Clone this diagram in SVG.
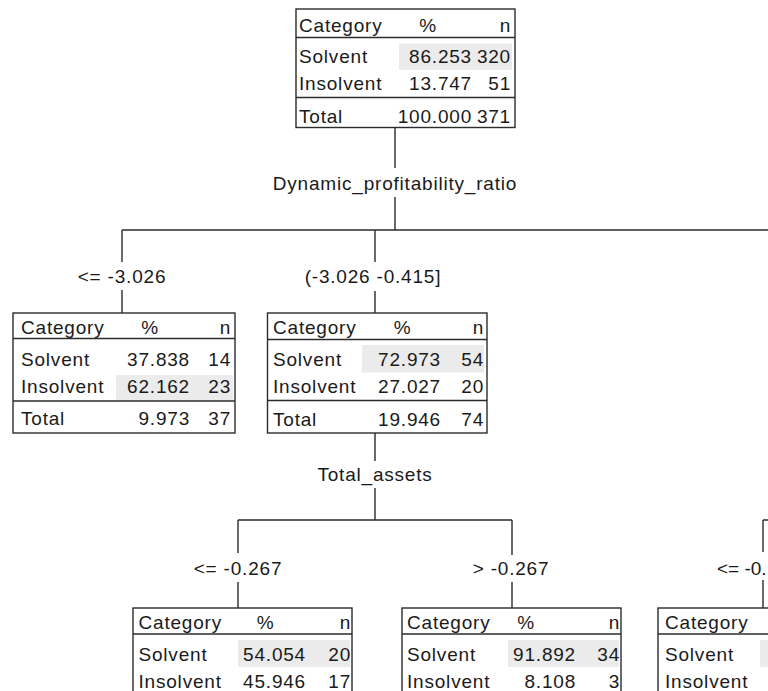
<svg xmlns="http://www.w3.org/2000/svg" width="768" height="691" viewBox="0 0 768 691">
<style>
text{font-family:"Liberation Sans",Arial,sans-serif;font-size:19px;letter-spacing:0.8px;fill:#1a1a1a}
.e{text-anchor:end}
.m{text-anchor:middle}
.box{fill:#fff;stroke:#2b2b2b;stroke-width:1.4}
.hl{fill:#ebebeb}
.ln{stroke:#2b2b2b;stroke-width:1.4;fill:none}
</style>
<rect width="768" height="691" fill="#fff"/>
<g id="connectors" class="ln">
<path d="M395 127.5V168M395 197V230M122 230H768M122 230V262M122 290V313M375 230V262M375 291V313"/>
<path d="M375 433V461M375 488V520M238 520H512M238 520V553M238 582V608M512 520V555M512 582V608"/>
<path d="M763 520H768M763 520V552M763 580V608"/>
</g>
<g id="labels">
<text class="m" x="395" y="190">Dynamic_profitability_ratio</text>
<text class="m" x="122" y="283">&lt;= -3.026</text>
<text class="m" x="373" y="283">(-3.026 -0.415]</text>
<text class="m" x="375" y="481">Total_assets</text>
<text class="m" x="238" y="575">&lt;= -0.267</text>
<text class="m" x="511" y="575">&gt; -0.267</text>
<text x="717" y="575" style="letter-spacing:0">&lt;= -0.</text>
</g>
<g id="node0">
<rect class="box" x="296" y="9" width="219" height="118.5"/>
<rect class="hl" x="399" y="43.5" width="113" height="26.5"/>
<path class="ln" d="M296 37.5H515M296 97.5H515"/>
<text x="299" y="31.5">Category</text><text class="m" x="428" y="31.5">%</text><text class="e" x="511" y="31.5">n</text>
<text x="299" y="63">Solvent</text><text class="e" x="472" y="63">86.253</text><text class="e" x="511" y="63">320</text>
<text x="299" y="89.5">Insolvent</text><text class="e" x="472" y="89.5">13.747</text><text class="e" x="511" y="89.5">51</text>
<text x="299" y="122.5">Total</text><text class="e" x="472" y="122.5">100.000</text><text class="e" x="511" y="122.5">371</text>
</g>
<g id="node1">
<rect class="box" x="13" y="313" width="222" height="120"/>
<rect class="hl" x="116" y="375" width="117" height="26"/>
<path class="ln" d="M13 338.5H235M13 401H235"/>
<text x="21" y="333.5">Category</text><text class="m" x="150" y="333.5">%</text><text class="e" x="231" y="333.5">n</text>
<text x="21" y="365.5">Solvent</text><text class="e" x="190" y="365.5">37.838</text><text class="e" x="231" y="365.5">14</text>
<text x="21" y="393">Insolvent</text><text class="e" x="190" y="393">62.162</text><text class="e" x="231" y="393">23</text>
<text x="21" y="424.5">Total</text><text class="e" x="190" y="424.5">9.973</text><text class="e" x="231" y="424.5">37</text>
</g>
<g id="node2">
<rect class="box" x="267.5" y="313" width="219.5" height="120"/>
<rect class="hl" x="362" y="345" width="122" height="27.5"/>
<path class="ln" d="M267.5 339.5H487M267.5 400.5H487"/>
<text x="273" y="333.5">Category</text><text class="m" x="402.5" y="333.5">%</text><text class="e" x="484" y="333.5">n</text>
<text x="273" y="365.5">Solvent</text><text class="e" x="441" y="365.5">72.973</text><text class="e" x="484" y="365.5">54</text>
<text x="273" y="393">Insolvent</text><text class="e" x="441" y="393">27.027</text><text class="e" x="484" y="393">20</text>
<text x="273" y="425.5">Total</text><text class="e" x="441" y="425.5">19.946</text><text class="e" x="484" y="425.5">74</text>
</g>
<g id="node3">
<rect class="box" x="133" y="608" width="219" height="120"/>
<rect class="hl" x="238" y="640" width="112" height="27"/>
<path class="ln" d="M133 634H352M133 696H352"/>
<text x="138.5" y="629">Category</text><text class="m" x="265.5" y="629">%</text><text class="e" x="351" y="629">n</text>
<text x="138.5" y="661">Solvent</text><text class="e" x="306" y="661">54.054</text><text class="e" x="351" y="661">20</text>
<text x="138.5" y="688">Insolvent</text><text class="e" x="306" y="688">45.946</text><text class="e" x="351" y="688">17</text>
</g>
<g id="node4">
<rect class="box" x="402" y="608" width="219" height="120"/>
<rect class="hl" x="508" y="640" width="111" height="27"/>
<path class="ln" d="M402 634H621M402 696H621"/>
<text x="407" y="629">Category</text><text class="m" x="526" y="629">%</text><text class="e" x="620" y="629">n</text>
<text x="407" y="661">Solvent</text><text class="e" x="576" y="661">91.892</text><text class="e" x="620" y="661">34</text>
<text x="407" y="688">Insolvent</text><text class="e" x="576" y="688">8.108</text><text class="e" x="620" y="688">3</text>
</g>
<g id="node5">
<rect class="box" x="658" y="608" width="219" height="120"/>
<rect class="hl" x="760" y="640" width="115" height="27"/>
<path class="ln" d="M658 634H877"/>
<text x="665" y="629">Category</text>
<text x="665" y="661">Solvent</text>
<text x="665" y="688">Insolvent</text>
</g>
</svg>
